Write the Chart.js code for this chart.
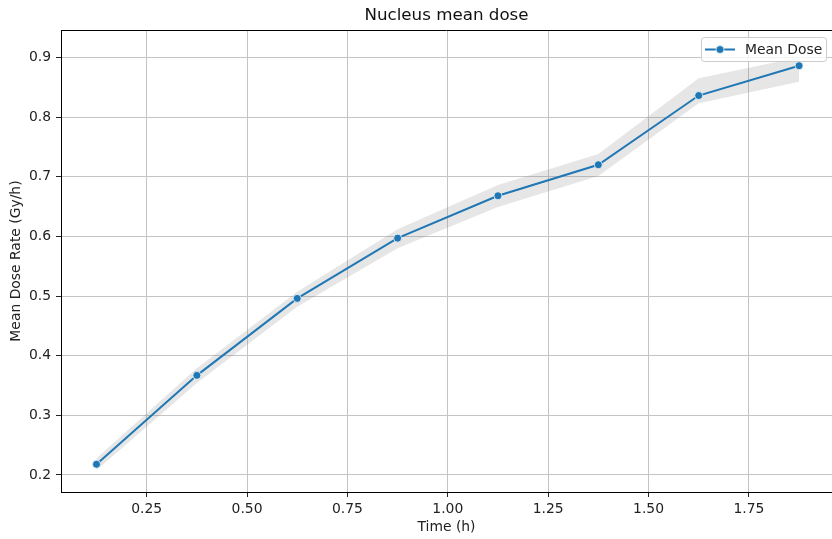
<!DOCTYPE html>
<html>
<head>
<meta charset="utf-8">
<script src="https://cdn.jsdelivr.net/npm/chart.js@4.4.1/dist/chart.umd.min.js"></script>
<style>
  html, body { margin: 0; padding: 0; background: #fff; overflow: hidden; }
  canvas { display: block; }
</style>
</head>
<body>
<canvas id="c" width="832" height="539"></canvas>
<script>
// Time bins (h) and dose rate statistics
const TIME_H    = [0.125, 0.375, 0.625, 0.875, 1.125, 1.375, 1.625, 1.875];
const MEAN_DOSE = [0.218, 0.367, 0.496, 0.597, 0.668, 0.720, 0.836, 0.886];
const DOSE_LOW  = [0.208, 0.354, 0.482, 0.580, 0.649, 0.701, 0.823, 0.859];
const DOSE_HIGH = [0.228, 0.379, 0.507, 0.612, 0.686, 0.738, 0.865, 0.900];
const X_TICKS   = [0.25, 0.50, 0.75, 1.00, 1.25, 1.50, 1.75];
const Y_TICKS   = [0.2, 0.3, 0.4, 0.5, 0.6, 0.7, 0.8, 0.9];

const FONT = "'DejaVu Sans', sans-serif";
const BLUE = '#1f77b4';

const pts = (ys) => TIME_H.map((x, i) => ({ x, y: ys[i] }));

// top spine and in-axes legend box
const frameAndLegend = {
  id: 'frameAndLegend',
  afterDraw(chart) {
    const ctx = chart.ctx;
    const a = chart.chartArea;
    ctx.save();
    ctx.strokeStyle = '#000';
    ctx.lineWidth = 1;
    ctx.beginPath();
    ctx.moveTo(a.left, Math.round(a.top) + 0.5);
    ctx.lineTo(a.right, Math.round(a.top) + 0.5);
    ctx.stroke();

    const bx = 701.5, by = 37.5, bw = 125, bh = 24, r = 3;
    ctx.beginPath();
    ctx.roundRect(bx, by, bw, bh, r);
    ctx.fillStyle = 'rgba(255,255,255,0.8)';
    ctx.fill();
    ctx.strokeStyle = '#cccccc';
    ctx.stroke();

    const cy = by + bh / 2;
    ctx.strokeStyle = BLUE;
    ctx.lineWidth = 2;
    ctx.beginPath();
    ctx.moveTo(705, cy);
    ctx.lineTo(735, cy);
    ctx.stroke();
    ctx.beginPath();
    ctx.arc(720, cy, 4, 0, Math.PI * 2);
    ctx.fillStyle = BLUE;
    ctx.fill();
    ctx.strokeStyle = '#fff';
    ctx.lineWidth = 0.75;
    ctx.stroke();

    ctx.fillStyle = '#222';
    ctx.font = `13.9px ${FONT}`;
    ctx.textBaseline = 'middle';
    ctx.textAlign = 'left';
    ctx.fillText(chart.data.datasets[0].label, 745, cy + 0.5);
    ctx.restore();
  }
};

new Chart(document.getElementById('c'), {
  type: 'line',
  data: {
    datasets: [
      {
        label: 'Mean Dose',
        data: pts(MEAN_DOSE),
        borderColor: BLUE,
        borderWidth: 2,
        pointRadius: 4,
        pointBackgroundColor: BLUE,
        pointBorderColor: '#fff',
        pointBorderWidth: 0.75,
        tension: 0,
        fill: false,
        order: 0
      },
      {
        label: 'upper',
        data: pts(DOSE_HIGH),
        borderWidth: 0,
        pointRadius: 0,
        backgroundColor: 'rgba(128,128,128,0.2)',
        fill: '+1',
        tension: 0,
        order: 1
      },
      {
        label: 'lower',
        data: pts(DOSE_LOW),
        borderWidth: 0,
        pointRadius: 0,
        fill: false,
        tension: 0,
        order: 2
      }
    ]
  },
  plugins: [frameAndLegend],
  options: {
    responsive: false,
    animation: false,
    devicePixelRatio: 1,
    layout: { padding: 0, autoPadding: false },
    plugins: {
      legend: { display: false },
      tooltip: { enabled: false },
      title: {
        display: true,
        text: 'Nucleus mean dose',
        color: '#111',
        fullSize: false,
        font: { family: FONT, size: 16.7, weight: 'normal' },
        padding: { top: 6, bottom: 4 }
      }
    },
    scales: {
      x: {
        type: 'linear',
        min: 0.0366,
        max: 1.957,
        afterBuildTicks: (s) => { s.ticks = X_TICKS.map(v => ({ value: v })); },
        afterFit: (s) => { s.height = 47; },
        ticks: {
          color: '#222',
          font: { family: FONT, size: 13.9 },
          padding: 4,
          maxRotation: 0,
          callback: (v) => Number(v).toFixed(2)
        },
        grid: { color: '#c4c4c4', lineWidth: 1, tickLength: 5, tickColor: '#222' },
        border: { display: true, color: '#000', width: 1 },
        title: {
          display: true,
          text: 'Time (h)',
          color: '#222',
          font: { family: FONT, size: 13.9 },
          padding: { top: 0, bottom: 3.7 }
        }
      },
      y: {
        type: 'linear',
        min: 0.1715,
        max: 0.9458,
        afterBuildTicks: (s) => { s.ticks = Y_TICKS.map(v => ({ value: v })); },
        afterFit: (s) => { s.width = 61; },
        ticks: {
          color: '#222',
          font: { family: FONT, size: 13.9 },
          padding: 5,
          callback: (v) => Number(v).toFixed(1)
        },
        grid: { color: '#c4c4c4', lineWidth: 1, tickLength: 5, tickColor: '#222' },
        border: { display: true, color: '#000', width: 1 },
        title: {
          display: true,
          text: 'Mean Dose Rate (Gy/h)',
          color: '#222',
          font: { family: FONT, size: 13.9 },
          padding: { top: 7.7, bottom: 0 }
        }
      }
    }
  }
});
</script>
</body>
</html>
